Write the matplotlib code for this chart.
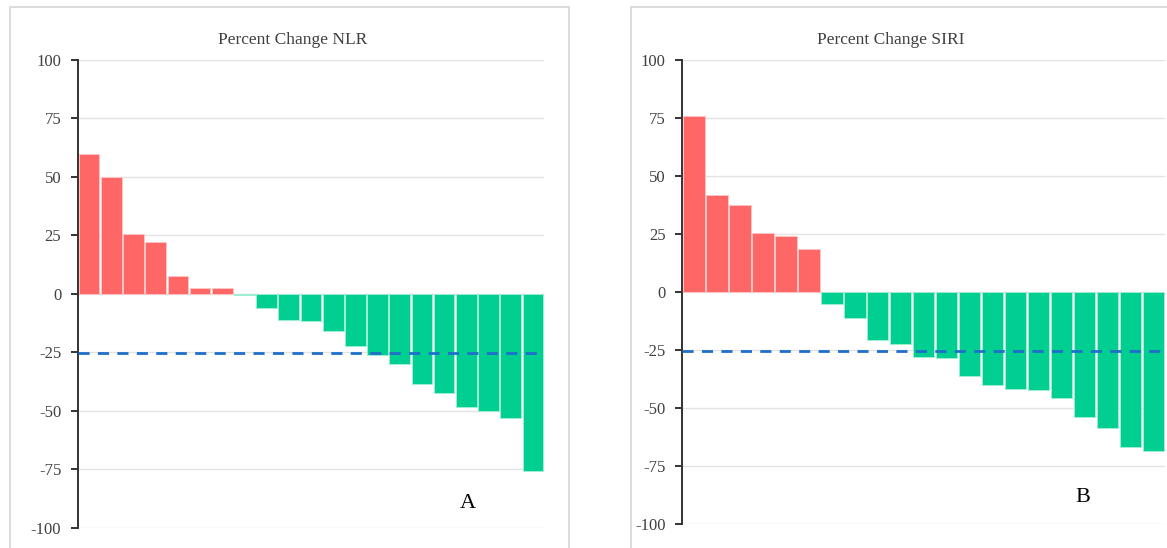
import matplotlib
matplotlib.use("Agg")
import matplotlib.pyplot as plt
from matplotlib.patches import Rectangle
import numpy as np

# 値は図から読み取った推定値
nlr_change = [60, 50, 25.5, 22, 7.5, 2.3, 2.3, -0.4, -6, -11.3, -11.5, -16, -22.5,
              -26, -30, -38.5, -42.5, -48.3, -50, -53.2, -76]
siri_change = [76, 41.7, 37.3, 25.5, 24, 18.7, -5, -11.3, -20.5, -22.2, -28, -28.5,
               -36.3, -40.2, -41.7, -42.1, -45.7, -53.8, -58.5, -67, -68.5]
threshold = -25.5
titles = ["Percent Change NLR", "Percent Change SIRI"]
panel_labels = ["A", "B"]
yticks = [100, 75, 50, 25, 0, -25, -50, -75, -100]

RED = "#ff6666"
GREEN = "#00cf91"
RED_EDGE = "#ffc4c4"
GREEN_EDGE = "#9eeed3"
BLUE = "#1f6fc9"

plt.rcParams['font.family'] = ['Liberation Serif', 'DejaVu Serif']

W, H = 1167, 548
fig = plt.figure(figsize=(W / 100, H / 100), dpi=100)

# 枠（チャートエリア）
for x0, x1 in [(9.5, 568.5), (630.5, 1200)]:
    fig.patches.append(Rectangle((x0 / W, -0.1), (x1 - x0) / W, (H + 60 - 12.5) / H,
                                 transform=fig.transFigure, fill=False,
                                 edgecolor="#d9d9d9", linewidth=1.3, clip_on=False))

axes_px = [(78, 544, 60, 527.5), (682.5, 1165, 60, 524)]
label_pos = [(468, 503), (1083, 497)]
title_x = [293, 891]

for i, values in enumerate([nlr_change, siri_change]):
    l, r, t, b = axes_px[i]
    ax = fig.add_axes([l / W, 1 - b / H, (r - l) / W, (b - t) / H])
    x = np.arange(len(values))
    colors = [RED if v > 0 else GREEN for v in values]
    edges = [RED_EDGE if v > 0 else GREEN_EDGE for v in values]
    ax.bar(x, values, width=0.93, color=colors, edgecolor=edges, linewidth=0.7, zorder=2)
    ax.axhline(threshold, color=BLUE, linestyle=(0, (4, 3)), linewidth=2, zorder=3)
    ax.set_xlim(-0.5, len(values) - 0.5)
    ax.set_ylim(-100, 100)
    ax.set_yticks(yticks)
    ax.set_yticklabels([str(v) for v in yticks])
    ax.set_xticks([])
    ax.grid(axis="y", color="#e3e3e3", linewidth=1, zorder=0)
    for s in ["top", "right", "bottom"]:
        ax.spines[s].set_visible(False)
    ax.spines["left"].set_color("#333333")
    ax.spines["left"].set_linewidth(1.4)
    ax.tick_params(axis="y", direction="out", length=5, width=1.4, color="#333333",
                   labelsize=12, labelcolor="#404040", pad=7)
    ax.set_facecolor("none")
    fig.text(title_x[i] / W, 1 - 40 / H, titles[i], ha="center", va="center",
             fontsize=12.5, color="#404040")
    fig.text(label_pos[i][0] / W, 1 - label_pos[i][1] / H, panel_labels[i],
             ha="center", va="center", fontsize=16, color="black")

fig.savefig("out.png", dpi=100)
